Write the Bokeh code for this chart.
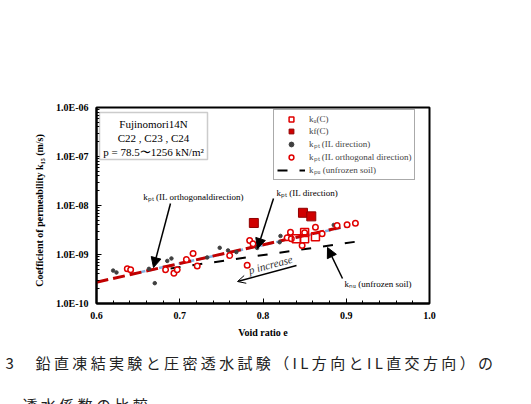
from bokeh.plotting import figure
from bokeh.layouts import column
from bokeh.models import (Range1d, FixedTicker, CustomJSTickFormatter, Legend, LegendItem,
                          Arrow, NormalHead, OpenHead, Label, BoxAnnotation)
from bokeh.core.properties import value
from bokeh.embed import file_html
from bokeh.resources import INLINE
import math

# ---------------- data ----------------
# k_u(C): open squares
ku_e = [0.840, 0.850, 0.850, 0.863]
ku_k = [2.1e-9, 2.8e-9, 2.1e-9, 2.3e-9]
# k_f(C): filled squares
kf_e = [0.789, 0.848, 0.858]
kf_k = [4.4e-9, 7.1e-9, 6.0e-9]
# k_pt (IL direction): small dark dots
il_e = [0.620, 0.624, 0.663, 0.670, 0.685, 0.690, 0.733, 0.748, 0.758, 0.768,
        0.783, 0.793, 0.821, 0.820, 0.831, 0.885]
il_k = [4.7e-10, 4.3e-10, 5.1e-10, 2.6e-10, 7.4e-10, 8.3e-10, 8.7e-10, 1.37e-9, 1.21e-9, 1.12e-9,
        1.96e-9, 1.36e-9, 2.39e-9, 1.78e-9, 2.44e-9, 4.0e-9]
# k_pt (IL orthogonal direction): red rings
ort_e = [0.637, 0.641, 0.683, 0.693, 0.697, 0.708, 0.716, 0.721, 0.760, 0.781, 0.784,
         0.788, 0.829, 0.833, 0.834, 0.847, 0.850, 0.863, 0.871, 0.889, 0.901, 0.911]
ort_k = [5.1e-10, 4.9e-10, 4.9e-10, 4.15e-10, 4.9e-10, 7.9e-10, 1.05e-9, 5.8e-10, 9.5e-10, 6.0e-10, 1.93e-9,
         1.65e-9, 2.19e-9, 2.85e-9, 2.09e-9, 1.53e-9, 2.77e-9, 3.6e-9, 2.64e-9, 3.9e-9, 4.04e-9, 4.35e-9]
# fitted lines
fit_ort_e = [0.60, 0.90]
fit_ort_k = [2.72e-10, 3.8e-9]
fit_il_e = [0.64, 0.90]
fit_il_k = [3.9e-10, 3.7e-9]
# k_pu (unfrozen soil)
unf_e = [0.689, 0.913]
unf_k = [5.2e-10, 1.84e-9]

x_ticks = [0.6, 0.7, 0.8, 0.9, 1.0]
x_tick_labels = ["0.6", "0.7", "0.8", "0.9", "1.0"]
y_ticks = [1e-10, 1e-9, 1e-8, 1e-7, 1e-6]
y_tick_labels = ["1.0E-10", "1.0E-09", "1.0E-08", "1.0E-07", "1.0E-06"]

caption1 = "3　鉛直凍結実験と圧密透水試験（IL 方向と IL 直交方向）の"
caption2 = "透水係数の比較"

# ---------------- layout ----------------
W = 531
H_MAIN = 350
H_CAP = 404 - H_MAIN
FX0, FX1, FY0, FY1 = 96, 429, 107, 303   # frame in canvas px

p = figure(width=W, height=H_MAIN, output_backend="svg", toolbar_location=None,
           x_range=Range1d(0.6, 1.0), y_range=Range1d(1e-10, 1e-6), y_axis_type="log",
           min_border_left=FX0, min_border_right=W - FX1,
           min_border_top=FY0, min_border_bottom=H_MAIN - FY1)
p.frame_align = False
p.xgrid.visible = False
p.ygrid.visible = False
p.outline_line_color = "black"
p.outline_line_width = 2
p.background_fill_color = "white"
p.border_fill_color = "white"


def to_data(X, Y):
    e = 0.6 + (X - FX0) / (FX1 - FX0) * 0.4
    k = 10 ** (-6 - (Y - FY0) / (FY1 - FY0) * 4)
    return e, k


fmt_code = """
let best = 0, bd = Infinity;
for (let i = 0; i < vals.length; i++) {
  const d = LOG ? Math.abs(Math.log10(tick) - Math.log10(vals[i])) : Math.abs(tick - vals[i]);
  if (d < bd) { bd = d; best = i; }
}
return labs[best];
"""

p.xaxis.ticker = FixedTicker(ticks=x_ticks,
                             minor_ticks=[round(0.6 + 0.02 * i, 2) for i in range(21)])
p.xaxis.formatter = CustomJSTickFormatter(args=dict(vals=x_ticks, labs=x_tick_labels),
                                          code=fmt_code.replace("LOG", "false"))
p.yaxis.ticker = FixedTicker(ticks=y_ticks,
                             minor_ticks=[m * 10.0 ** d for d in range(-10, -6) for m in range(2, 10)])
p.yaxis.formatter = CustomJSTickFormatter(args=dict(vals=y_ticks, labs=y_tick_labels),
                                          code=fmt_code.replace("LOG", "true"))

for ax in (p.xaxis[0], p.yaxis[0]):
    ax.axis_line_color = "black"
    ax.axis_line_width = 2
    ax.major_tick_in = 5
    ax.major_tick_out = 0
    ax.minor_tick_in = 3
    ax.minor_tick_out = 0
    ax.major_tick_line_width = 1
    ax.major_label_text_font = "Liberation Serif"
    ax.major_label_text_font_style = "bold"
    ax.major_label_text_font_size = "10px"
    ax.major_label_text_color = "black"
    ax.axis_label_text_font = "Liberation Serif"
    ax.axis_label_text_font_style = "bold"
    ax.axis_label_text_font_size = "10px"
    ax.axis_label_text_color = "black"

p.xaxis.axis_label = "Void ratio e"
p.xaxis.major_label_standoff = 8
p.xaxis.axis_label_standoff = 5
p.yaxis.axis_label = "Coefficient  of  permeability  k₁₅  (m/s)"
p.yaxis.major_label_standoff = 8
p.yaxis.axis_label_standoff = 8

# ---------------- glyphs ----------------
p.line(fit_il_e, fit_il_k, line_color="#7fb0e0", line_width=2.5, line_dash="6 4")
p.line(fit_ort_e, fit_ort_k, line_color="#c00000", line_width=3, line_dash="12 5")
r_unf = p.line(unf_e, unf_k, line_color="black", line_width=2, line_dash="10 12")
r_il = p.scatter(il_e, il_k, marker="circle", size=3.5, fill_color="#404040", line_color="#404040")
r_ort = p.scatter(ort_e, ort_k, marker="circle", size=5.5, fill_color="white",
                  line_color="#e00000", line_width=1.5)
r_ku = p.scatter(ku_e, ku_k, marker="square", size=8, fill_color=None,
                 line_color="#e00000", line_width=1.5)
r_kf = p.scatter(kf_e, kf_k, marker="square", size=9, fill_color="#d00000", line_color="#900000")

legend = Legend(items=[
    LegendItem(label="kᵤ(C)", renderers=[r_ku]),
    LegendItem(label="kf(C)", renderers=[r_kf]),
    LegendItem(label="kₚₜ (IL direction)", renderers=[r_il]),
    LegendItem(label="kₚₜ (IL orthogonal direction)", renderers=[r_ort]),
    LegendItem(label="kₚᵤ (unfrozen soil)", renderers=[r_unf]),
], location=(177, 123))
legend.border_line_color = "#555555"
legend.border_line_width = 1.5
legend.background_fill_color = "white"
legend.background_fill_alpha = 1
legend.label_text_font = "Liberation Serif"
legend.label_text_font_size = "9px"
legend.glyph_width = 28
legend.glyph_height = 12
legend.label_height = 12
legend.spacing = 0
legend.padding = 3
legend.margin = 0
legend.label_standoff = 4
p.add_layout(legend)

# ---------------- annotations ----------------
bl = to_data(99, 159)
tr = to_data(207, 112)
p.add_layout(BoxAnnotation(left=bl[0], right=tr[0], bottom=bl[1], top=tr[1],
                           fill_color="white", fill_alpha=1,
                           line_color="#555555", line_width=1.5))


def lab(X, Y, text, size="9px", align="left", baseline="middle", style="normal",
        angle=0.0, font="Liberation Serif", color="black"):
    e, k = to_data(X, Y)
    p.add_layout(Label(x=e, y=k, text=text, text_font=font, text_font_size=size,
                       text_align=align, text_baseline=baseline, text_font_style=style,
                       angle=angle, text_color=color))


lab(153, 123, "Fujinomori14N", size="11px", align="center")
lab(153, 137, "C22 , C23 , C24", size="11px", align="center")
lab(153, 151, "p = 78.5〜1256 kN/m²", size="11px", align="center")

lab(193, 196, "kₚₜ (IL orthogonaldirection)", size="9px", align="center")
lab(276, 192, "kₚₜ (IL direction)", size="9px")
lab(344, 283, "kₙᵤ (unfrozen soil)", size="9px")
lab(270, 264, "p increase", size="11px", align="center", style="italic",
    angle=math.radians(15), color="#333333")


def arrow(X0, Y0, X1, Y1, head):
    s = to_data(X0, Y0)
    t = to_data(X1, Y1)
    p.add_layout(Arrow(x_start=s[0], y_start=s[1], x_end=t[0], y_end=t[1],
                       end=head, line_color="black", line_width=1.5))


arrow(170, 203, 153, 267, NormalHead(size=10, fill_color="black", line_color="black"))
arrow(273, 198, 257, 248, NormalHead(size=10, fill_color="black", line_color="black"))
arrow(342, 278, 327, 247, NormalHead(size=10, fill_color="black", line_color="black"))
arrow(296, 265, 237, 281, OpenHead(size=8, line_color="black", line_width=1))

# ---------------- caption strip (figure caption below the chart) ----------------
cap = figure(width=W, height=H_CAP, output_backend="svg", toolbar_location=None,
             x_range=Range1d(0, W), y_range=Range1d(H_CAP, 0),
             min_border=0, min_border_left=0, min_border_right=0,
             min_border_top=0, min_border_bottom=0)
cap.frame_align = False
cap.axis.visible = False
cap.grid.visible = False
cap.outline_line_color = None
cap.background_fill_color = "white"
cap.border_fill_color = "white"
cap.text(x=[5, 22], y=[362 - H_MAIN, 393 - H_MAIN],
         text=[" ".join(caption1), " ".join(caption2)],
         text_font=value("Noto Sans CJK JP"), text_font_size="15px",
         text_baseline=["middle", "top"], text_color="#222222")

open("out.html", "w").write(file_html(column(p, cap, spacing=0), INLINE))
